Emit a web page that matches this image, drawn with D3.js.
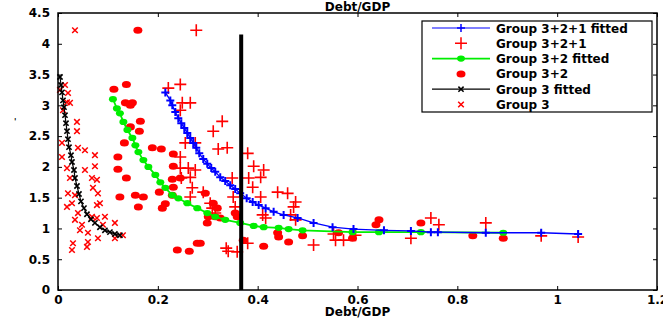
<!DOCTYPE html>
<html>
<head>
<meta charset="utf-8">
<script src="https://cdn.jsdelivr.net/npm/d3@7"></script>
<style>
  body { margin: 0; background: #fff; }
  text { font-family: "DejaVu Sans", sans-serif; font-weight: bold; fill: #000; }
  .axis path, .axis line { stroke: #000; }
</style>
</head>
<body>
<div id="chart"></div>
<script>
// tick values
var xTicks = [0, 0.2, 0.4, 0.6, 0.8, 1, 1.2];
var yTicks = [0, 0.5, 1, 1.5, 2, 2.5, 3, 3.5, 4, 4.5];
var thresholdX = 0.367, thresholdTop = 4.15;

// Group 3+2+1 fitted (blue)
var fit321 = [[0.215,3.21],[0.225,3.08],[0.229,3.00],[0.235,2.89],[0.241,2.79],[0.247,2.71],[0.253,2.63],
  [0.259,2.55],[0.265,2.47],[0.271,2.39],[0.277,2.31],[0.283,2.22],[0.291,2.13],[0.299,2.05],[0.307,1.98],
  [0.315,1.92],[0.325,1.83],[0.335,1.77],[0.345,1.70],[0.355,1.64],[0.365,1.57],[0.378,1.49],[0.390,1.43],
  [0.402,1.38],[0.416,1.33],[0.432,1.27],[0.452,1.22],[0.480,1.17],[0.512,1.09],[0.550,1.02],[0.592,0.99],
  [0.653,0.97],[0.707,0.96],[0.747,0.94],[0.761,0.94],[0.857,0.93],[0.968,0.93],[1.042,0.91]];

// Group 3+2+1 (red plus)
var grp321 = [[0.277,4.22],[0.221,3.28],[0.245,3.34],[0.249,3.04],[0.265,3.04],[0.245,2.92],[0.329,2.74],
  [0.311,2.58],[0.255,2.39],[0.275,2.39],[0.321,2.29],[0.339,2.31],[0.245,2.16],[0.245,1.98],[0.261,1.98],
  [0.275,1.95],[0.265,1.83],[0.247,1.82],[0.269,1.66],[0.291,1.59],[0.265,1.51],[0.305,1.41],[0.309,1.33],
  [0.315,1.25],[0.337,0.68],[0.359,0.62],[0.341,0.63],[0.380,2.22],[0.392,2.01],[0.412,1.95],[0.406,1.83],
  [0.382,1.82],[0.349,1.82],[0.390,1.67],[0.440,1.59],[0.460,1.57],[0.406,1.51],[0.351,1.51],[0.476,1.43],
  [0.472,1.35],[0.355,1.35],[0.410,1.22],[0.416,1.17],[0.466,1.22],[0.476,1.14],[0.380,0.76],[0.512,0.73],
  [0.556,0.81],[0.552,0.91],[0.572,0.81],[0.596,0.89],[0.707,0.84],[0.747,1.17],[0.763,1.06],[0.857,1.09],
  [0.968,0.88],[1.042,0.86]];

// Group 3+2 fitted (green)
var fit32 = [[0.110,3.10],[0.118,2.95],[0.124,2.87],[0.131,2.73],[0.139,2.60],[0.149,2.47],[0.155,2.35],
  [0.161,2.24],[0.171,2.11],[0.181,2.00],[0.195,1.87],[0.205,1.75],[0.215,1.66],[0.229,1.54],[0.241,1.49],
  [0.259,1.41],[0.279,1.33],[0.299,1.25],[0.315,1.19],[0.335,1.14],[0.365,1.09],[0.392,1.04],[0.412,1.02],
  [0.442,1.01],[0.462,0.99],[0.490,0.97],[0.590,0.94],[0.643,0.94],[0.727,0.94],[0.892,0.93]];

// Group 3+2 (red dots)
var grp32 = [[0.160,4.22],[0.137,3.34],[0.112,3.26],[0.135,3.04],[0.149,3.04],[0.145,3.00],[0.165,2.74],
  [0.145,2.65],[0.163,2.58],[0.133,2.39],[0.189,2.31],[0.207,2.29],[0.231,2.21],[0.120,2.16],[0.231,2.01],
  [0.120,1.96],[0.137,1.82],[0.229,1.80],[0.245,1.82],[0.231,1.67],[0.124,1.51],[0.155,1.54],[0.171,1.51],
  [0.203,1.59],[0.229,1.54],[0.161,1.35],[0.215,1.40],[0.209,1.33],[0.295,1.57],[0.311,1.41],[0.319,1.33],
  [0.301,1.19],[0.299,1.09],[0.325,1.17],[0.315,1.19],[0.355,1.25],[0.359,1.19],[0.371,0.81],[0.412,0.71],
  [0.440,0.93],[0.442,0.86],[0.462,0.78],[0.490,0.88],[0.562,0.93],[0.285,0.76],[0.279,0.76],[0.239,0.65],
  [0.263,0.63],[0.643,1.14],[0.637,1.06],[0.590,0.84],[0.727,1.09],[0.831,0.88],[0.892,0.84]];

// Group 3 fitted (black)
var fit3 = [[0.004,3.46],[0.006,3.33],[0.008,3.21],[0.010,3.08],[0.012,2.97],[0.014,2.84],[0.016,2.71],
  [0.018,2.58],[0.020,2.45],[0.022,2.32],[0.026,2.19],[0.028,2.08],[0.032,1.95],[0.034,1.82],[0.038,1.69],
  [0.042,1.56],[0.046,1.44],[0.052,1.33],[0.058,1.23],[0.066,1.15],[0.074,1.09],[0.084,1.02],[0.094,0.97],
  [0.104,0.94],[0.114,0.91],[0.124,0.89]];

// Group 3 (red x)
var grp3 = [[0.034,4.22],[0.014,3.33],[0.004,3.25],[0.020,3.20],[0.018,3.05],[0.024,3.04],[0.010,2.92],
  [0.038,2.73],[0.038,2.58],[0.008,2.39],[0.040,2.31],[0.054,2.27],[0.074,2.19],[0.008,2.16],[0.074,2.01],
  [0.018,1.98],[0.054,1.95],[0.068,1.82],[0.024,1.82],[0.078,1.79],[0.070,1.66],[0.080,1.57],[0.020,1.57],
  [0.034,1.54],[0.018,1.35],[0.078,1.38],[0.028,1.41],[0.084,1.41],[0.040,1.25],[0.068,1.19],[0.094,1.19],
  [0.034,1.14],[0.078,1.17],[0.048,1.06],[0.090,1.06],[0.114,1.09],[0.044,0.97],[0.060,0.93],[0.080,0.84],
  [0.114,0.84],[0.130,0.89],[0.060,0.78],[0.030,0.76],[0.058,0.70],[0.028,0.65]];

var legendItems = [
  { label: "Group 3+2+1  fitted", color: "#0000ff", line: true, mark: "plus" },
  { label: "Group 3+2+1", color: "#ff0000", line: false, mark: "plus" },
  { label: "Group 3+2 fitted", color: "#00ee00", line: true, mark: "dot" },
  { label: "Group 3+2", color: "#ff0000", line: false, mark: "dot" },
  { label: "Group 3 fitted", color: "#000000", line: true, mark: "cross" },
  { label: "Group 3", color: "#ff0000", line: false, mark: "cross" }
];

var W = 663, H = 320;
var margin = { top: 13, right: 6, bottom: 30, left: 58 };
var width = W - margin.left - margin.right,
    height = H - margin.top - margin.bottom;

var svg = d3.select("#chart").append("svg")
    .attr("width", W).attr("height", H)
    .append("g")
    .attr("transform", "translate(" + margin.left + "," + margin.top + ")");

var x = d3.scaleLinear().domain([0, 1.2]).range([0, width]);
var y = d3.scaleLinear().domain([0, 4.5]).range([height, 0]);

// marker drawing helpers
function plusPath(s) { return "M" + (-s) + ",0H" + s + "M0," + (-s) + "V" + s; }
function crossPath(s) { return "M" + (-s) + "," + (-s) + "L" + s + "," + s + "M" + (-s) + "," + s + "L" + s + "," + (-s); }

function drawMarks(data, kind, color, size, sw) {
    var g = svg.append("g");
    if (kind == "dot") {
        g.selectAll("ellipse").data(data).enter().append("ellipse")
            .attr("cx", function(d) { return x(d[0]); })
            .attr("cy", function(d) { return y(d[1]); })
            .attr("rx", size).attr("ry", size * 0.78)
            .attr("fill", color);
    } else {
        g.selectAll("path").data(data).enter().append("path")
            .attr("transform", function(d) { return "translate(" + x(d[0]) + "," + y(d[1]) + ")"; })
            .attr("d", kind == "plus" ? plusPath(size) : crossPath(size))
            .attr("stroke", color)
            .attr("stroke-width", sw)
            .attr("fill", "none");
    }
}

var line = d3.line().x(function(d) { return x(d[0]); }).y(function(d) { return y(d[1]); });

function drawFit(data, color, w) {
    svg.append("path").datum(data)
        .attr("d", line).attr("fill", "none")
        .attr("stroke", color).attr("stroke-width", w);
}

// scatter groups
drawMarks(grp3, "cross", "#ff0000", 2.8, 1.5);
drawMarks(grp32, "dot", "#ff0000", 4.5);
drawMarks(grp321, "plus", "#ff0000", 6, 1.6);

// fitted curves
drawFit(fit3, "#000000", 1.2);
drawMarks(fit3, "cross", "#000000", 2.6, 1.6);
drawFit(fit32, "#00ee00", 1.8);
drawMarks(fit32, "dot", "#00ee00", 4);
drawFit(fit321, "#0000ff", 1.3);
drawMarks(fit321, "plus", "#0000ff", 4, 2);

// threshold line
svg.append("line")
    .attr("x1", x(thresholdX)).attr("x2", x(thresholdX))
    .attr("y1", y(0)).attr("y2", y(thresholdTop))
    .attr("stroke", "#000").attr("stroke-width", 4);

// axes, ticks inward on all four sides
svg.append("g").attr("class", "axis")
    .attr("transform", "translate(0," + height + ")")
    .call(d3.axisBottom(x).tickValues(xTicks).tickSize(-4).tickPadding(5)
        .tickFormat(function(d) { return d; }))
    .call(function(g) { g.select(".domain").remove(); })
    .selectAll("text").style("font-size", "12px");

svg.append("g").attr("class", "axis")
    .call(d3.axisLeft(y).tickValues(yTicks).tickSize(-4).tickPadding(8)
        .tickFormat(function(d) { return d; }))
    .call(function(g) { g.select(".domain").remove(); })
    .selectAll("text").style("font-size", "12px");

svg.append("g").attr("class", "axis")
    .call(d3.axisTop(x).tickValues(xTicks).tickSize(-4).tickFormat(""))
    .call(function(g) { g.select(".domain").remove(); });

svg.append("g").attr("class", "axis")
    .attr("transform", "translate(" + width + ",0)")
    .call(d3.axisRight(y).tickValues(yTicks).tickSize(-4).tickFormat(""))
    .call(function(g) { g.select(".domain").remove(); });

svg.append("rect")
    .attr("width", width).attr("height", height)
    .attr("fill", "none").attr("stroke", "#000").attr("stroke-width", 1.5);

// titles
svg.append("text").attr("x", width / 2).attr("y", -2)
    .attr("text-anchor", "middle").style("font-size", "12px").text("Debt/GDP");
svg.append("text").attr("x", width / 2).attr("y", height + 26)
    .attr("text-anchor", "middle").style("font-size", "12px").text("Debt/GDP");
svg.append("text").attr("x", -44).attr("y", 112)
    .style("font-size", "8px").text("'");

// legend
var lg = svg.append("g").attr("transform", "translate(" + (422 - margin.left) + "," + (21 - margin.top) + ")");
lg.append("rect").attr("width", 230).attr("height", 91)
    .attr("fill", "#fff").attr("stroke", "#000").attr("stroke-width", 1.2);

legendItems.forEach(function(it, i) {
    var row = lg.append("g").attr("transform", "translate(0," + (7 + i * 15.3) + ")");
    if (it.line) {
        row.append("line").attr("x1", 10).attr("x2", 68)
            .attr("stroke", it.color).attr("stroke-width", it.color == "#00ee00" ? 1.8 : 1.2);
    }
    var m = row.append("g").attr("transform", "translate(39,0)");
    if (it.mark == "dot") {
        m.append("ellipse").attr("rx", it.line ? 4 : 4.5).attr("ry", it.line ? 3.1 : 3.5).attr("fill", it.color);
    } else {
        m.append("path")
            .attr("d", it.mark == "plus" ? plusPath(it.line ? 4 : 6) : crossPath(it.line ? 2.6 : 2.8))
            .attr("stroke", it.color).attr("stroke-width", 1.5).attr("fill", "none");
    }
    row.append("text").attr("x", 74).attr("y", 4.5)
        .style("font-size", "12px").text(it.label);
});
</script>
</body>
</html>
